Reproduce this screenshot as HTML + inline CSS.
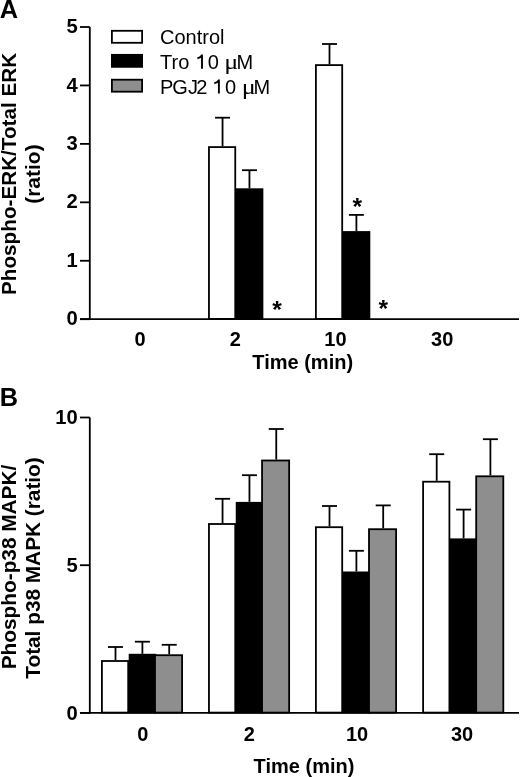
<!DOCTYPE html>
<html><head><meta charset="utf-8"><style>
html,body{margin:0;padding:0;background:#fff;}
svg{display:block;will-change:transform;font-family:"Liberation Sans",sans-serif;}
</style></head><body>
<svg width="520" height="777" viewBox="0 0 520 777">
<rect width="520" height="777" fill="#fff"/>
<line x1="222.55" y1="117.70" x2="222.55" y2="146.20" stroke="#000" stroke-width="1.8"/>
<line x1="215.05" y1="117.70" x2="230.05" y2="117.70" stroke="#000" stroke-width="1.8"/>
<line x1="249.45" y1="170.20" x2="249.45" y2="188.30" stroke="#000" stroke-width="1.8"/>
<line x1="241.95" y1="170.20" x2="256.95" y2="170.20" stroke="#000" stroke-width="1.8"/>
<line x1="329.50" y1="44.00" x2="329.50" y2="64.20" stroke="#000" stroke-width="1.8"/>
<line x1="322.00" y1="44.00" x2="337.00" y2="44.00" stroke="#000" stroke-width="1.8"/>
<line x1="356.40" y1="214.90" x2="356.40" y2="231.10" stroke="#000" stroke-width="1.8"/>
<line x1="348.90" y1="214.90" x2="363.90" y2="214.90" stroke="#000" stroke-width="1.8"/>
<rect x="208.95" y="147.10" width="26.30" height="171.80" fill="#fff" stroke="#000" stroke-width="1.8"/>
<rect x="236.65" y="189.20" width="25.80" height="129.70" fill="#000" stroke="#000" stroke-width="1.8"/>
<rect x="315.90" y="65.10" width="26.30" height="253.80" fill="#fff" stroke="#000" stroke-width="1.8"/>
<rect x="343.60" y="232.00" width="25.80" height="86.90" fill="#000" stroke="#000" stroke-width="1.8"/>
<line x1="89.80" y1="27.00" x2="89.80" y2="320.10" stroke="#000" stroke-width="1.8"/>
<line x1="80.00" y1="319.20" x2="89.80" y2="319.20" stroke="#000" stroke-width="1.8"/>
<text x="77.80" y="325.30" font-size="20.2" font-weight="bold" text-anchor="end" >0</text>
<line x1="80.00" y1="260.76" x2="89.80" y2="260.76" stroke="#000" stroke-width="1.8"/>
<text x="77.80" y="266.86" font-size="20.2" font-weight="bold" text-anchor="end" >1</text>
<line x1="80.00" y1="202.32" x2="89.80" y2="202.32" stroke="#000" stroke-width="1.8"/>
<text x="77.80" y="208.42" font-size="20.2" font-weight="bold" text-anchor="end" >2</text>
<line x1="80.00" y1="143.88" x2="89.80" y2="143.88" stroke="#000" stroke-width="1.8"/>
<text x="77.80" y="149.98" font-size="20.2" font-weight="bold" text-anchor="end" >3</text>
<line x1="80.00" y1="85.44" x2="89.80" y2="85.44" stroke="#000" stroke-width="1.8"/>
<text x="77.80" y="91.54" font-size="20.2" font-weight="bold" text-anchor="end" >4</text>
<line x1="80.00" y1="27.00" x2="89.80" y2="27.00" stroke="#000" stroke-width="1.8"/>
<text x="77.80" y="33.10" font-size="20.2" font-weight="bold" text-anchor="end" >5</text>
<line x1="80.00" y1="319.20" x2="519.00" y2="319.20" stroke="#000" stroke-width="1.8"/>
<text x="140.00" y="345.80" font-size="20" font-weight="bold" text-anchor="middle" >0</text>
<text x="235.30" y="345.80" font-size="20" font-weight="bold" text-anchor="middle" >2</text>
<text x="335.40" y="345.80" font-size="20" font-weight="bold" text-anchor="middle" >10</text>
<text x="442.20" y="345.80" font-size="20" font-weight="bold" text-anchor="middle" >30</text>
<text x="302.70" y="369.00" font-size="20" font-weight="bold" text-anchor="middle" >Time (min)</text>
<text x="277.10" y="317.60" font-size="24.6" font-weight="bold" text-anchor="middle" >*</text>
<text x="357.20" y="214.90" font-size="24.6" font-weight="bold" text-anchor="middle" >*</text>
<text x="383.40" y="317.40" font-size="24.6" font-weight="bold" text-anchor="middle" >*</text>
<g transform="translate(16.3,173.5) rotate(-90)"><text x="-0.4" y="0" font-size="20.7" font-weight="bold" text-anchor="middle">Phospho-ERK/Total ERK</text><text x="-0.6" y="24.2" font-size="21" font-weight="bold" text-anchor="middle">(ratio)</text></g>
<rect x="111.90" y="30.80" width="30.20" height="12.00" fill="#fff" stroke="#000" stroke-width="1.8"/>
<rect x="111.90" y="54.85" width="30.20" height="12.00" fill="#000" stroke="#000" stroke-width="1.8"/>
<rect x="111.90" y="79.70" width="30.20" height="12.00" fill="#8e8e8e" stroke="#000" stroke-width="1.8"/>
<text x="160.00" y="43.80" font-size="20" font-weight="normal" text-anchor="start" >Control</text>
<text x="160.00" y="68.80" font-size="20" font-weight="normal" text-anchor="start" >Tro</text>
<path d="M202.00,54.60 L202.00,68.80 M202.00,55.40 C200.80,57.20 199.20,58.10 197.40,58.30" fill="none" stroke="#000" stroke-width="1.9"/>
<text x="207.70" y="68.80" font-size="20" font-weight="normal" text-anchor="start" >0</text>
<text transform="translate(224.20,68.80) scale(1.25,1)" font-family="Liberation Serif" font-size="21">μ</text>
<text x="236.46" y="68.80" font-size="20" font-weight="normal" text-anchor="start" >M</text>
<text x="160.00" y="93.50" font-size="20" font-weight="normal" text-anchor="start" >P<tspan dx="-1">G</tspan>J<tspan dx="-1.6">2</tspan></text>
<path d="M218.90,79.50 L218.90,93.50 M218.90,80.30 C217.70,82.10 216.10,83.00 214.30,83.20" fill="none" stroke="#000" stroke-width="1.9"/>
<text x="225.00" y="93.50" font-size="20" font-weight="normal" text-anchor="start" >0</text>
<text transform="translate(241.70,93.50) scale(1.25,1)" font-family="Liberation Serif" font-size="21">μ</text>
<text x="253.56" y="93.50" font-size="20" font-weight="normal" text-anchor="start" >M</text>
<text x="-0.20" y="17.70" font-size="25.3" font-weight="bold" text-anchor="start" >A</text>
<line x1="115.50" y1="647.00" x2="115.50" y2="660.10" stroke="#000" stroke-width="1.8"/>
<line x1="108.00" y1="647.00" x2="123.00" y2="647.00" stroke="#000" stroke-width="1.8"/>
<line x1="142.40" y1="641.70" x2="142.40" y2="653.80" stroke="#000" stroke-width="1.8"/>
<line x1="134.90" y1="641.70" x2="149.90" y2="641.70" stroke="#000" stroke-width="1.8"/>
<line x1="169.20" y1="644.80" x2="169.20" y2="654.30" stroke="#000" stroke-width="1.8"/>
<line x1="161.70" y1="644.80" x2="176.70" y2="644.80" stroke="#000" stroke-width="1.8"/>
<line x1="222.55" y1="498.80" x2="222.55" y2="523.10" stroke="#000" stroke-width="1.8"/>
<line x1="215.05" y1="498.80" x2="230.05" y2="498.80" stroke="#000" stroke-width="1.8"/>
<line x1="249.45" y1="475.20" x2="249.45" y2="501.90" stroke="#000" stroke-width="1.8"/>
<line x1="241.95" y1="475.20" x2="256.95" y2="475.20" stroke="#000" stroke-width="1.8"/>
<line x1="276.25" y1="429.00" x2="276.25" y2="459.60" stroke="#000" stroke-width="1.8"/>
<line x1="268.75" y1="429.00" x2="283.75" y2="429.00" stroke="#000" stroke-width="1.8"/>
<line x1="329.50" y1="506.00" x2="329.50" y2="526.30" stroke="#000" stroke-width="1.8"/>
<line x1="322.00" y1="506.00" x2="337.00" y2="506.00" stroke="#000" stroke-width="1.8"/>
<line x1="356.40" y1="550.80" x2="356.40" y2="571.50" stroke="#000" stroke-width="1.8"/>
<line x1="348.90" y1="550.80" x2="363.90" y2="550.80" stroke="#000" stroke-width="1.8"/>
<line x1="383.20" y1="505.40" x2="383.20" y2="528.30" stroke="#000" stroke-width="1.8"/>
<line x1="375.70" y1="505.40" x2="390.70" y2="505.40" stroke="#000" stroke-width="1.8"/>
<line x1="436.70" y1="454.20" x2="436.70" y2="480.80" stroke="#000" stroke-width="1.8"/>
<line x1="429.20" y1="454.20" x2="444.20" y2="454.20" stroke="#000" stroke-width="1.8"/>
<line x1="463.60" y1="509.60" x2="463.60" y2="538.40" stroke="#000" stroke-width="1.8"/>
<line x1="456.10" y1="509.60" x2="471.10" y2="509.60" stroke="#000" stroke-width="1.8"/>
<line x1="490.40" y1="439.20" x2="490.40" y2="475.40" stroke="#000" stroke-width="1.8"/>
<line x1="482.90" y1="439.20" x2="497.90" y2="439.20" stroke="#000" stroke-width="1.8"/>
<rect x="101.90" y="661.00" width="26.30" height="51.60" fill="#fff" stroke="#000" stroke-width="1.8"/>
<rect x="129.60" y="654.70" width="25.80" height="57.90" fill="#000" stroke="#000" stroke-width="1.8"/>
<rect x="155.00" y="655.20" width="27.10" height="57.40" fill="#8e8e8e" stroke="#000" stroke-width="1.8"/>
<rect x="208.95" y="524.00" width="26.30" height="188.60" fill="#fff" stroke="#000" stroke-width="1.8"/>
<rect x="236.65" y="502.80" width="25.80" height="209.80" fill="#000" stroke="#000" stroke-width="1.8"/>
<rect x="262.05" y="460.50" width="27.10" height="252.10" fill="#8e8e8e" stroke="#000" stroke-width="1.8"/>
<rect x="315.90" y="527.20" width="26.30" height="185.40" fill="#fff" stroke="#000" stroke-width="1.8"/>
<rect x="343.60" y="572.40" width="25.80" height="140.20" fill="#000" stroke="#000" stroke-width="1.8"/>
<rect x="369.00" y="529.20" width="27.10" height="183.40" fill="#8e8e8e" stroke="#000" stroke-width="1.8"/>
<rect x="423.10" y="481.70" width="26.30" height="230.90" fill="#fff" stroke="#000" stroke-width="1.8"/>
<rect x="450.80" y="539.30" width="25.80" height="173.30" fill="#000" stroke="#000" stroke-width="1.8"/>
<rect x="476.20" y="476.30" width="27.10" height="236.30" fill="#8e8e8e" stroke="#000" stroke-width="1.8"/>
<line x1="89.80" y1="417.50" x2="89.80" y2="713.80" stroke="#000" stroke-width="1.8"/>
<line x1="80.00" y1="712.90" x2="89.80" y2="712.90" stroke="#000" stroke-width="1.8"/>
<text x="77.80" y="719.60" font-size="20.2" font-weight="bold" text-anchor="end" >0</text>
<line x1="80.00" y1="565.20" x2="89.80" y2="565.20" stroke="#000" stroke-width="1.8"/>
<text x="77.80" y="571.90" font-size="20.2" font-weight="bold" text-anchor="end" >5</text>
<line x1="80.00" y1="417.50" x2="89.80" y2="417.50" stroke="#000" stroke-width="1.8"/>
<text x="77.80" y="424.20" font-size="20.2" font-weight="bold" text-anchor="end" >10</text>
<line x1="80.00" y1="712.90" x2="519.00" y2="712.90" stroke="#000" stroke-width="1.8"/>
<text x="142.70" y="740.80" font-size="20" font-weight="bold" text-anchor="middle" >0</text>
<text x="249.40" y="740.80" font-size="20" font-weight="bold" text-anchor="middle" >2</text>
<text x="357.00" y="740.80" font-size="20" font-weight="bold" text-anchor="middle" >10</text>
<text x="462.00" y="740.80" font-size="20" font-weight="bold" text-anchor="middle" >30</text>
<text x="304.00" y="773.00" font-size="20" font-weight="bold" text-anchor="middle" >Time (min)</text>
<g transform="translate(15.9,566) rotate(-90)"><text x="-1" y="0" font-size="20.8" font-weight="bold" text-anchor="middle">Phospho-p38 MAPK/</text><text x="-2" y="24.5" font-size="20.8" font-weight="bold" text-anchor="middle">Total p38 MAPK (ratio)</text></g>
<text x="-0.30" y="406.30" font-size="25.3" font-weight="bold" text-anchor="start" >B</text>
</svg>
</body></html>
